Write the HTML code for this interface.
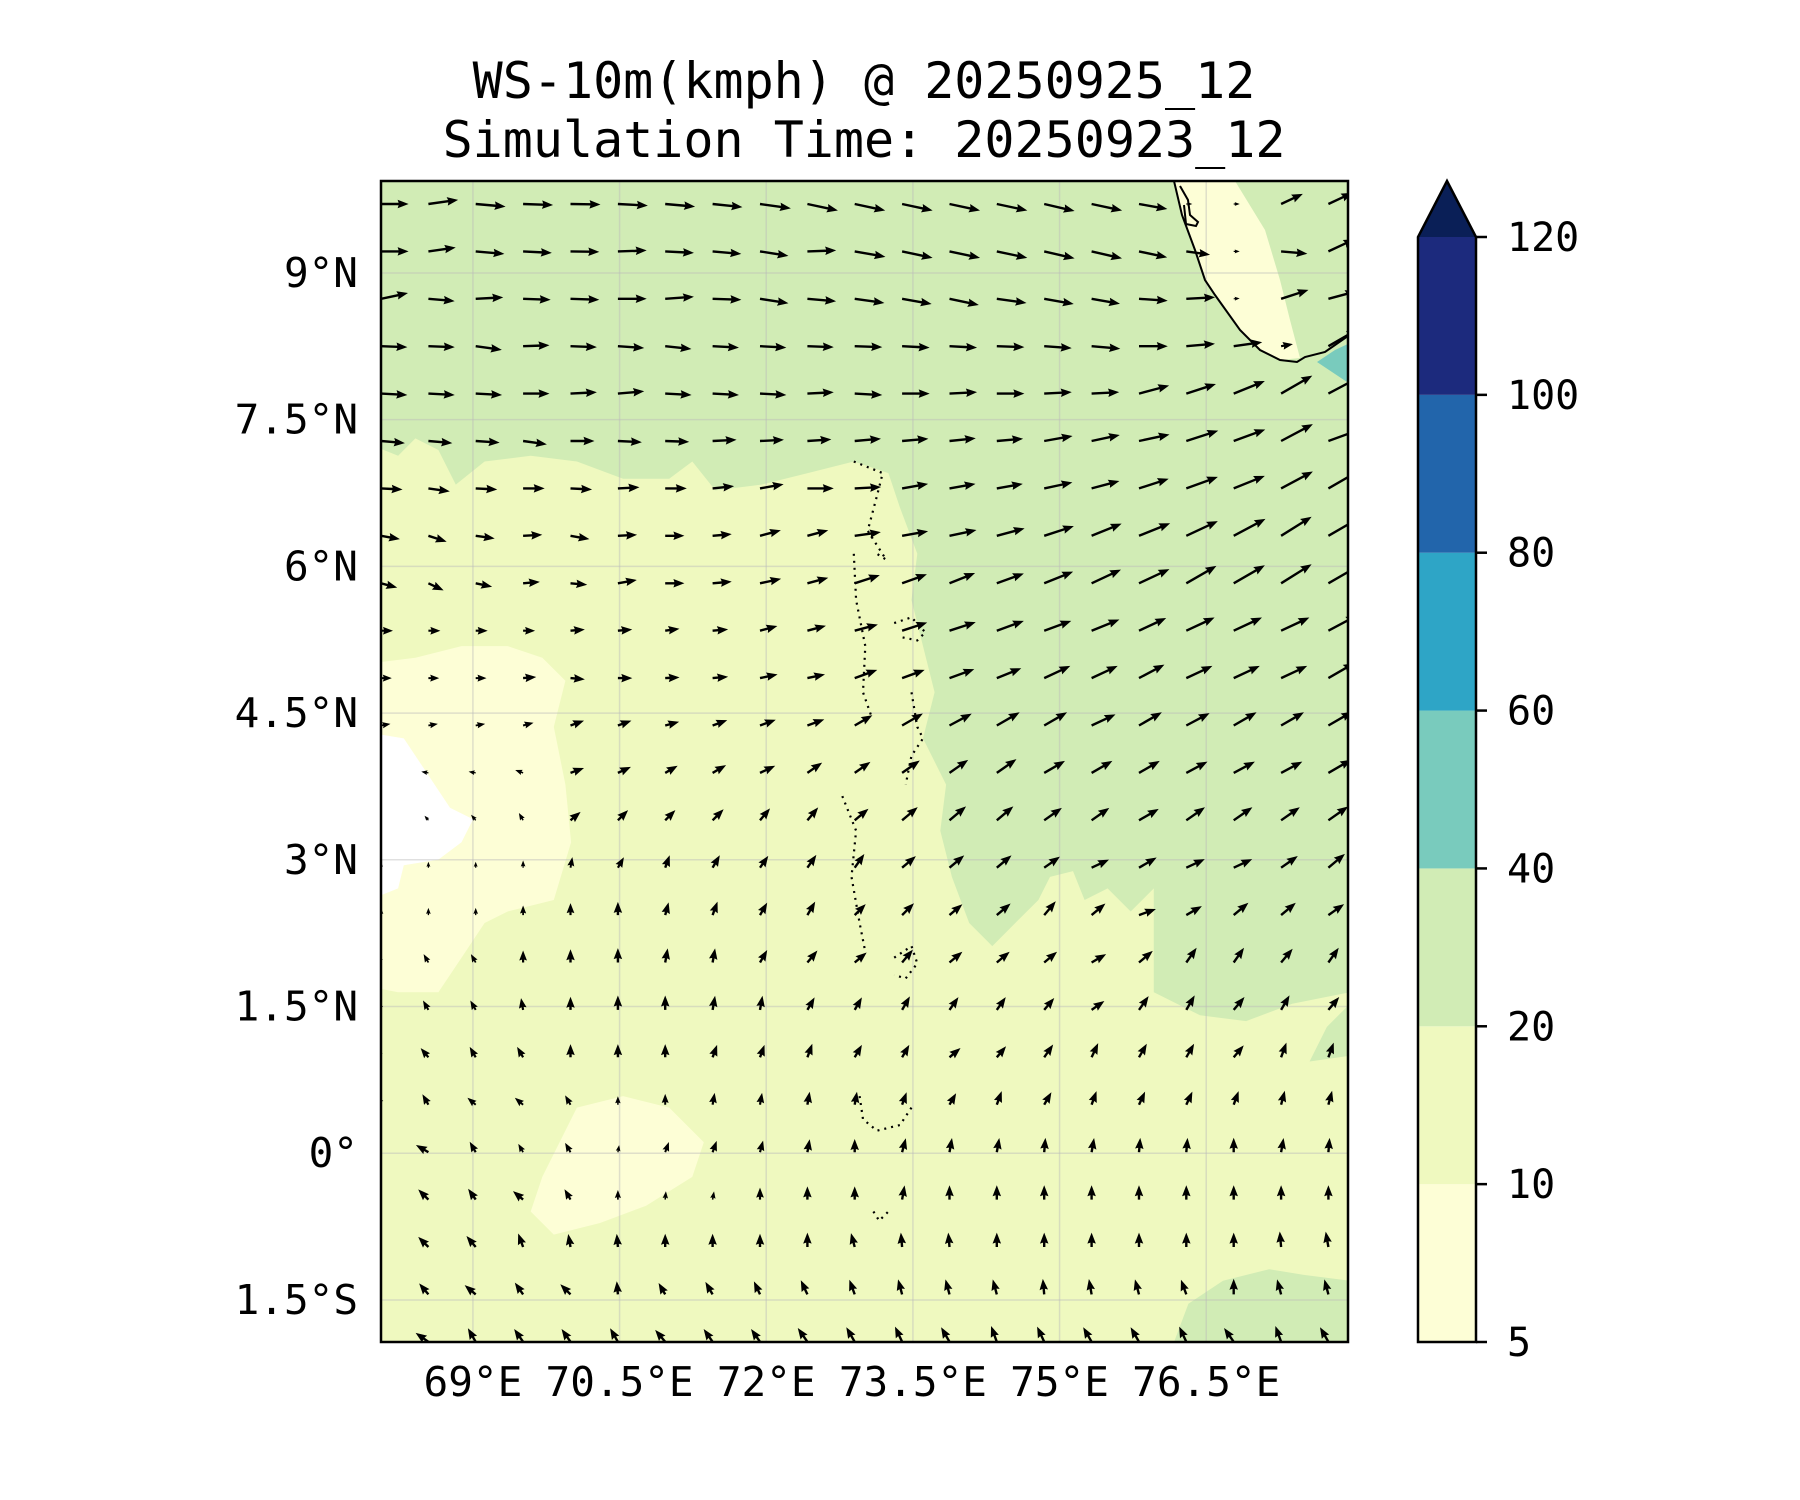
<!DOCTYPE html>
<html><head><meta charset="utf-8">
<style>
html,body{margin:0;padding:0;background:#fff;}
svg{display:block;}
text{font-family:"DejaVu Sans Mono","Liberation Mono",monospace;fill:#000;}
</style></head>
<body>
<svg id="fig" width="1800" height="1500" viewBox="0 0 1800 1500" xmlns="http://www.w3.org/2000/svg">
  <defs><clipPath id="mapclip"><rect x="381" y="181" width="967" height="1161"/></clipPath></defs>
  <text x="864" y="98" font-size="50" text-anchor="middle">WS-10m(kmph) @ 20250925_12</text>
  <text x="864" y="157" font-size="50" text-anchor="middle">Simulation Time: 20250923_12</text>
  <g id="map" clip-path="url(#mapclip)"></g>
  <rect x="381" y="181" width="967" height="1161" fill="none" stroke="#000" stroke-width="2.5"/>
  <g id="axes"></g>
  <g id="cbar"></g>
</svg>
<script>
// ---- data ----
const levels = [5, 10, 20, 40, 60, 80, 100, 120];
const levelColors = ["#fdfed6", "#eff9bf", "#d1ecb5", "#79cbbd", "#2ea5c6", "#2265ab", "#1c2a7d"];
const extendColor = "#0a1f57";
const xTickVals = [69, 70.5, 72, 73.5, 75, 76.5];
const xTickLabels = ["69°E", "70.5°E", "72°E", "73.5°E", "75°E", "76.5°E"];
const yTickVals = [9, 7.5, 6, 4.5, 3, 1.5, 0, -1.5];
const yTickLabels = ["9°N", "7.5°N", "6°N", "4.5°N", "3°N", "1.5°N", "0°", "1.5°S"];

// wind direction (deg, 0=east, 90=north) per grid row (north to south), 21 columns
const windDir = [
 [0,8,-5,-2,-1,-3,-5,-6,-8,-12,-12,-12,-12,-12,-13,-12,-10,0,0,25,25],
 [0,8,-5,-3,-1,2,-3,-5,-9,2,-10,-12,-12,-12,-13,-13,-12,-8,0,-5,25],
 [12,-5,3,-2,-2,0,4,-2,-9,-5,-8,-10,-12,-8,-10,-10,-4,3,4,18,15],
 [-2,-2,-8,2,-2,-4,-6,-3,-3,-2,-2,-3,-3,-2,-4,-5,0,5,8,10,30],
 [-3,-3,-3,0,3,5,-3,-3,-3,3,-3,0,3,0,3,3,15,18,22,30,28],
 [-5,-5,-4,-8,0,-3,-2,3,3,4,5,5,6,5,10,12,12,18,20,28,20],
 [-3,-8,-3,0,-3,3,0,6,10,0,3,10,10,10,12,15,18,20,22,28,30],
 [-10,-18,-8,3,-10,3,0,5,15,15,8,10,12,15,18,22,22,25,28,32,30],
 [-15,-25,-12,5,-5,10,0,5,12,15,18,20,22,20,22,25,25,30,30,32,30],
 [0,0,0,0,5,5,8,5,15,15,15,18,18,20,20,22,25,25,25,25,28],
 [0,0,0,5,-5,0,3,5,12,12,20,20,20,22,25,25,28,25,25,25,30],
 [10,10,10,15,20,20,15,20,20,20,30,30,28,30,30,25,30,28,30,30,30],
 [170,170,170,160,20,25,30,30,25,35,35,35,35,35,30,30,30,28,28,28,30],
 [130,130,130,120,40,45,45,45,50,50,40,40,40,40,35,35,30,35,35,35,35],
 [90,90,90,90,80,60,70,60,55,55,55,40,40,40,35,25,30,25,25,35,40],
 [90,90,90,90,90,90,75,70,60,60,45,45,40,40,50,40,20,30,40,40,35],
 [120,120,120,90,90,90,80,80,60,50,40,50,40,40,40,30,40,55,55,50,55],
 [120,120,120,100,90,90,90,80,80,60,60,60,55,55,50,35,55,60,50,60,50],
 [130,130,120,120,90,90,90,70,70,70,60,60,40,50,55,65,60,60,50,70,70],
 [120,120,140,140,120,90,90,80,80,80,80,70,60,70,60,70,65,65,70,75,75],
 [150,150,120,120,120,80,70,70,75,80,90,75,80,80,85,80,85,85,90,80,85],
 [135,135,125,140,120,90,85,80,90,90,90,80,90,90,90,90,90,90,90,90,90],
 [135,135,130,110,100,95,90,90,90,90,105,95,95,90,90,90,90,90,90,95,100],
 [130,130,140,125,135,95,120,120,115,115,110,105,105,105,95,100,105,110,90,105,105],
 [145,145,120,125,125,120,130,125,125,125,120,115,120,110,115,120,120,115,125,110,120]
];
// wind speed (km/h) per grid row
const windSpd = [
 [23,25,25,25,25,25,25,25,26,26,26,26,26,26,26,26,24,5,5,20,22],
 [23,23,24,24,24,24,24,24,24,24,26,26,26,26,26,26,24,20,5,22,24],
 [23,22,23,23,24,24,24,24,24,24,25,25,25,25,25,24,24,24,5,24,24],
 [22,22,22,22,22,22,22,22,22,22,23,23,23,23,23,24,24,24,24,10,28],
 [22,22,22,22,22,22,22,22,22,22,23,23,23,23,23,23,26,26,28,30,30],
 [20,20,20,20,20,20,20,20,20,20,22,22,22,22,24,24,26,28,28,30,30],
 [18,18,18,18,18,18,18,18,20,22,22,22,22,22,24,24,26,28,28,30,30],
 [16,16,16,16,16,16,16,16,18,18,22,22,23,24,26,27,28,29,30,30,30],
 [14,14,14,14,14,16,16,16,18,18,22,22,23,24,26,27,28,29,30,30,30],
 [10,10,10,10,12,12,12,13,15,16,20,22,23,24,24,25,25,26,26,26,27],
 [9,9,9,11,12,12,12,13,15,15,20,20,22,22,24,24,24,24,24,24,25],
 [8,8,8,9,12,12,12,13,14,15,17,20,21,22,22,22,22,22,22,22,23],
 [6,6,6,7,12,12,12,13,14,15,16,18,19,20,20,20,20,20,20,20,22],
 [5,5,6,7,11,12,12,13,13,14,15,17,18,18,18,18,19,19,19,19,20],
 [5,5,5,6,9,10,11,12,12,13,14,15,16,16,16,16,17,17,17,17,18],
 [6,6,6,8,10,11,11,12,12,13,13,14,14,15,15,15,15,15,16,16,16],
 [8,8,8,10,11,12,12,12,12,13,13,14,14,14,14,14,15,15,15,15,15],
 [9,9,9,10,11,12,12,12,12,12,12,13,13,13,13,13,14,14,14,14,14],
 [10,10,10,10,11,11,11,11,11,12,12,12,12,12,13,13,13,13,13,13,13],
 [10,10,9,9,9,7,9,10,10,11,11,11,11,12,12,12,12,12,12,12,12],
 [12,12,10,8,9,6,9,10,10,11,11,12,12,12,12,12,12,12,12,12,12],
 [12,12,11,11,10,8,7,7,10,11,11,12,12,12,12,12,12,12,12,12,12],
 [12,12,12,12,11,11,11,11,11,12,12,12,12,12,12,12,12,12,12,13,13],
 [12,12,12,12,12,11,11,12,12,13,13,13,13,13,13,13,13,13,13,13,13],
 [13,13,13,13,13,13,13,13,13,14,14,14,14,14,14,14,14,14,14,14,14]
];

// ---- axis functions ----
const X0 = 381, X1 = 1348, Y0 = 181, Y1 = 1342;
const LON0 = 68.06, LON1 = 77.95, LAT0 = 9.94, LAT1 = -1.93;
function xOf(lon){ return X0 + (lon - LON0) / (LON1 - LON0) * (X1 - X0); }
function yOf(lat){ return Y0 + (LAT0 - lat) / (LAT0 - LAT1) * (Y1 - Y0); }
const NS = "http://www.w3.org/2000/svg";
function mk(tag, attrs, parent){ const e = document.createElementNS(NS, tag); for (const k in attrs) e.setAttribute(k, attrs[k]); parent.appendChild(e); return e; }
function pts(arr){ return arr.map(p => (p[0]*1.1538).toFixed(1) + "," + (p[1]*1.1538).toFixed(1)).join(" "); }

const map = document.getElementById("map");
// background (10-20)
let bg = mk("rect", {x:X0, y:Y0, width:X1-X0, height:Y1-Y0, fill:levelColors[1]}, map);


// green region 20-40 (northern/eastern)
let g1 = mk("polygon", {fill:levelColors[2], points: pts([[320,150],[1170,150],[1170,860],[1120,870],[1080,885],[1040,880],[1000,860],[1000,820],[1000,770],[980,790],[960,770],[940,780],[930,755],[910,760],[900,780],[880,800],[860,820],[840,800],[825,760],[815,720],[820,680],[800,640],[810,600],[800,560],[790,520],[795,480],[780,440],[770,410],[740,400],[700,410],[660,420],[620,425],[600,400],[580,415],[540,415],[500,400],[460,395],[420,400],[395,420],[380,390],[360,380],[345,395],[320,385]])}, map);


let g2 = mk("polygon", {fill:levelColors[2], points: pts([[1015,1170],[1030,1130],[1060,1110],[1100,1100],[1130,1105],[1170,1110],[1170,1170]])}, map);


let g3 = mk("polygon", {fill:levelColors[2], points: pts([[1135,920],[1150,890],[1170,870],[1170,915]])}, map);


// pale regions 5-10
let p1 = mk("polygon", {fill:levelColors[0], points: pts([[320,575],[360,570],[400,560],[440,560],[470,570],[490,590],[480,630],[490,680],[495,730],[480,780],[440,790],[420,800],[400,830],[380,860],[345,860],[320,855]])}, map);


let p2 = mk("polygon", {fill:levelColors[0], points: pts([[470,1020],[500,960],[540,950],[580,960],[610,990],[600,1020],[560,1045],[520,1060],[480,1070],[460,1050]])}, map);


let w1 = mk("polygon", {fill:"#ffffff", points: pts([[320,635],[350,640],[370,670],[390,700],[410,710],[400,730],[380,745],[350,750],[345,770],[320,780]])}, map);


// Kerala land pale strip
let k1 = mk("polygon", {fill:levelColors[0], points:"1174,181 1235,181 1265,230 1280,280 1290,320 1300,358 1280,360 1260,350 1240,330 1215,295 1205,280 1195,250 1182,215"}, map);


let t1 = mk("polygon", {fill:levelColors[3], points:"1317,362 1335,350 1350,343 1350,384 1332,372"}, map);


// gridlines
xTickVals.forEach(v => { let l = mk("line", {x1:xOf(v), x2:xOf(v), y1:Y0, y2:Y1, stroke:"#bbb", "stroke-opacity":"0.45", "stroke-width":"1.5"}, map);
  
   });
yTickVals.forEach(v => { let l = mk("line", {x1:X0, x2:X1, y1:yOf(v), y2:yOf(v), stroke:"#bbb", "stroke-opacity":"0.45", "stroke-width":"1.5"}, map);
  
   });
// coastline
let coast = mk("polyline", {fill:"none", stroke:"#000", "stroke-width":"2", points:"1174,181 1182,215 1195,250 1205,280 1215,295 1240,330 1260,350 1280,360 1297,362 1305,357 1325,352 1335,345 1348,336"}, map);


let coast2 = mk("polyline", {fill:"none", stroke:"#000", "stroke-width":"2", points:"1180,186 1188,200 1190,215 1198,222 1196,226 1186,224 1184,205"}, map);


// Maldives atolls (dotted)
const atolls = [
 [[740,400],[765,410],[760,430],[752,460],[768,485],[760,480]],
 [[740,480],[742,520],[750,560],[748,600],[755,620]],
 [[775,540],[790,535],[802,548],[795,555],[780,552]],
 [[790,600],[795,630],[800,640],[790,655],[785,680]],
 [[730,690],[742,720],[738,760],[745,800],[750,825]],
 [[775,830],[790,820],[795,835],[785,848],[775,845]],
 [[745,950],[748,970],[760,980],[780,975],[790,960]],
 [[757,1050],[762,1058],[770,1050]]
];
atolls.forEach(a => { let pl = mk("polyline", {fill:"none", stroke:"#000", "stroke-width":"2.2", "stroke-dasharray":"2 5", points: pts(a)}, map);
  
   });

// wind arrows
const SCALE = 1.2, SW = 2.4, HL = 11, HW = 8.5, HA = 10;
for (let j = 0; j < windDir.length; j++) {
  for (let i = 0; i < windDir[j].length; i++) {
    const lon = LON0 + 0.4845 * i, lat = 9.705 - 0.4847 * j;
    const L = windSpd[j][i] * SCALE;
    let hl = HL, hw = HW, ha = HA, sw = SW;
    if (L < HL * 1.2) { const f = L / (HL * 1.2); hl *= f; hw *= f; ha *= f; sw = Math.max(1.2, sw * f); }
    const s = L - ha;
    const p = `0,${-sw/2} ${s},${-sw/2} ${L-hl},${-hw/2} ${L},0 ${L-hl},${hw/2} ${s},${sw/2} 0,${sw/2}`;
    const a = mk("polygon", {points:p, fill:"#000", transform:`translate(${xOf(lon).toFixed(1)},${yOf(lat).toFixed(1)}) rotate(${-windDir[j][i]})`}, map);
    
    
  }
}

// axis labels
const axes = document.getElementById("axes");
xTickVals.forEach((v, k) => { const t = mk("text", {x:xOf(v), y:1396, "font-size":"41", "text-anchor":"middle"}, axes); t.textContent = xTickLabels[k];
  
   });
yTickVals.forEach((v, k) => { const t = mk("text", {x:358, y:yOf(v) + 14, "font-size":"41", "text-anchor":"end"}, axes); t.textContent = yTickLabels[k];
  
   });

// colorbar
const cb = document.getElementById("cbar");
const CX0 = 1418, CX1 = 1476, CT = 237, CB = 1342, TIP = 181;
function cbY(idx){ return CB - idx / (levels.length - 1) * (CB - CT); }
for (let k = 0; k < levelColors.length; k++) {
  const r = mk("rect", {x:CX0, y:cbY(k+1), width:CX1-CX0, height:cbY(k)-cbY(k+1), fill:levelColors[k]}, cb);
  
  
}
const tri = mk("polygon", {points:`${CX0},${CT} ${(CX0+CX1)/2},${TIP} ${CX1},${CT}`, fill:extendColor}, cb);


const outline = mk("polygon", {points:`${CX0},${CB} ${CX0},${CT} ${(CX0+CX1)/2},${TIP} ${CX1},${CT} ${CX1},${CB}`, fill:"none", stroke:"#000", "stroke-width":"2.5"}, cb);


levels.forEach((v, k) => {
  const y = cbY(k);
  const tk = mk("line", {x1:CX1, x2:CX1+11, y1:y, y2:y, stroke:"#000", "stroke-width":"2.5"}, cb);
  
  
  const t = mk("text", {x:1507, y:y + 14, "font-size":"40"}, cb); t.textContent = v;
  
  
});
</script>
</body></html>
